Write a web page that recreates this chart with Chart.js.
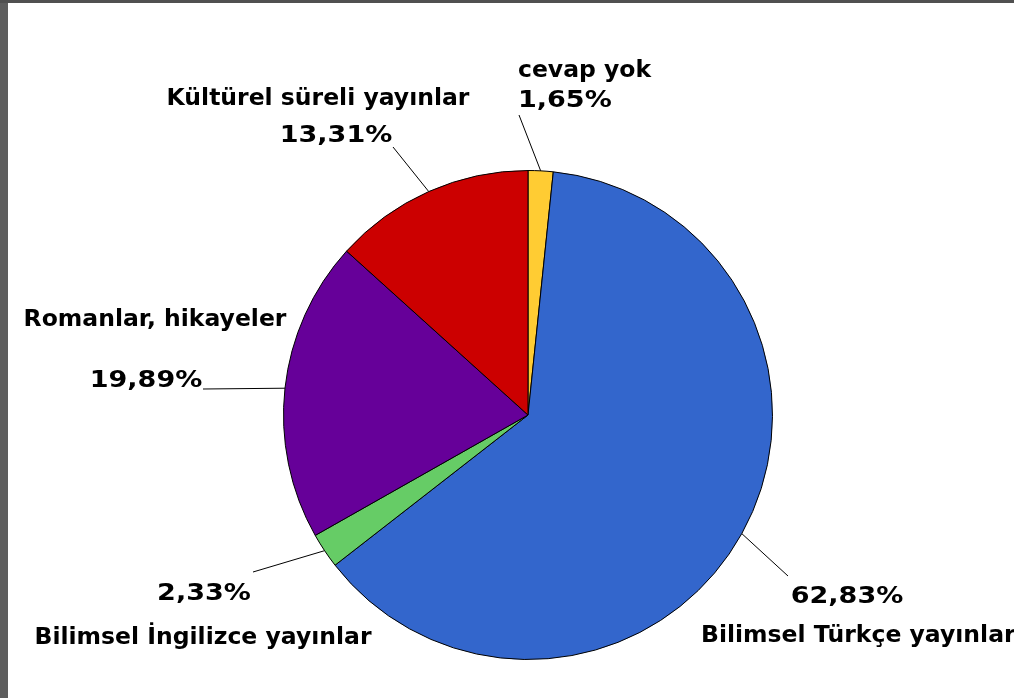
<!DOCTYPE html>
<html>
<head>
<meta charset="utf-8">
<script src="https://cdn.jsdelivr.net/npm/chart.js@4"></script>
<style>
  html, body { margin: 0; padding: 0; background: #fff; }
  #wrap { position: relative; width: 1014px; height: 698px; }
</style>
</head>
<body>
<div id="wrap"><canvas id="pieChart" width="1014" height="698"></canvas></div>
<script>
// Veriler
const categories = ['cevap yok', 'Bilimsel Türkçe yayınlar', 'Bilimsel İngilizce yayınlar', 'Romanlar, hikayeler', 'Kültürel süreli yayınlar'];
const percents = [1.65, 62.83, 2.33, 19.89, 13.31];
const sliceColors = ['#FFCC33', '#3366CC', '#66CC66', '#660099', '#CC0000'];

// Etiket yerleşimi: çizgi ucu, isim ve yüzde metni (x, taban çizgisi, hizalama)
const labelLayout = [
    { end: [519, 115], name: [518, 77, 'left'],   pct: [518, 107, 'left'] },
    { end: [788, 576], name: [701, 642, 'left'],  pct: [847, 603, 'center'] },
    { end: [253, 572], name: [203, 644, 'center'], pct: [204, 600, 'center'] },
    { end: [203, 389], name: [155, 326, 'center'], pct: [146, 387, 'center'] },
    { end: [393, 147], name: [318, 105, 'center'], pct: [336, 142, 'center'] }
];

const fmt = v => v.toFixed(2).replace('.', ',') + '%';

// Gri çerçeve (ekran görüntüsü kenarı)
const framePlugin = {
    id: 'frame',
    beforeDraw(chart) {
        const c = chart.ctx;
        c.save();
        c.fillStyle = '#ffffff';
        c.fillRect(0, 0, chart.width, chart.height);
        c.fillStyle = '#5e5e5e';
        c.fillRect(0, 0, 8, chart.height);
        c.fillStyle = '#505050';
        c.fillRect(0, 0, chart.width, 3);
        c.restore();
    }
};

// Etiketler ve kılavuz çizgileri
const labelPlugin = {
    id: 'sliceLabels',
    afterDatasetsDraw(chart) {
        const c = chart.ctx;
        const arcs = chart.getDatasetMeta(0).data;
        c.save();
        c.strokeStyle = '#000';
        c.lineWidth = 1;
        c.fillStyle = '#000';
        c.font = 'bold 23.5px "DejaVu Sans"';
        c.textBaseline = 'alphabetic';
        arcs.forEach((arc, i) => {
            const p = arc.getProps(['x', 'y', 'startAngle', 'endAngle', 'outerRadius'], true);
            const mid = (p.startAngle + p.endAngle) / 2;
            const sx = p.x + Math.cos(mid) * p.outerRadius;
            const sy = p.y + Math.sin(mid) * p.outerRadius;
            const L = labelLayout[i];
            c.beginPath();
            c.moveTo(sx, sy);
            c.lineTo(L.end[0], L.end[1]);
            c.stroke();
            c.textAlign = L.name[2];
            c.fillText(categories[i], L.name[0], L.name[1]);
            // yüzde rakamları referansta daha geniş
            c.save();
            c.translate(L.pct[0], L.pct[1]);
            c.scale(1.15, 1);
            c.textAlign = L.pct[2];
            c.fillText(fmt(percents[i]), 0, 0);
            c.restore();
        });
        c.restore();
    }
};

const ctx = document.getElementById('pieChart').getContext('2d');
const chart = new Chart(ctx, {
    type: 'pie',
    data: {
        labels: categories,
        datasets: [{
            data: percents,
            backgroundColor: sliceColors,
            borderColor: '#000000',
            borderWidth: 1
        }]
    },
    options: {
        responsive: false,
        animation: false,
        layout: { padding: { left: 283, top: 170, right: 241, bottom: 38 } },
        plugins: { legend: { display: false }, tooltip: { enabled: false } }
    },
    plugins: [framePlugin, labelPlugin]
});
</script>
</body>
</html>
